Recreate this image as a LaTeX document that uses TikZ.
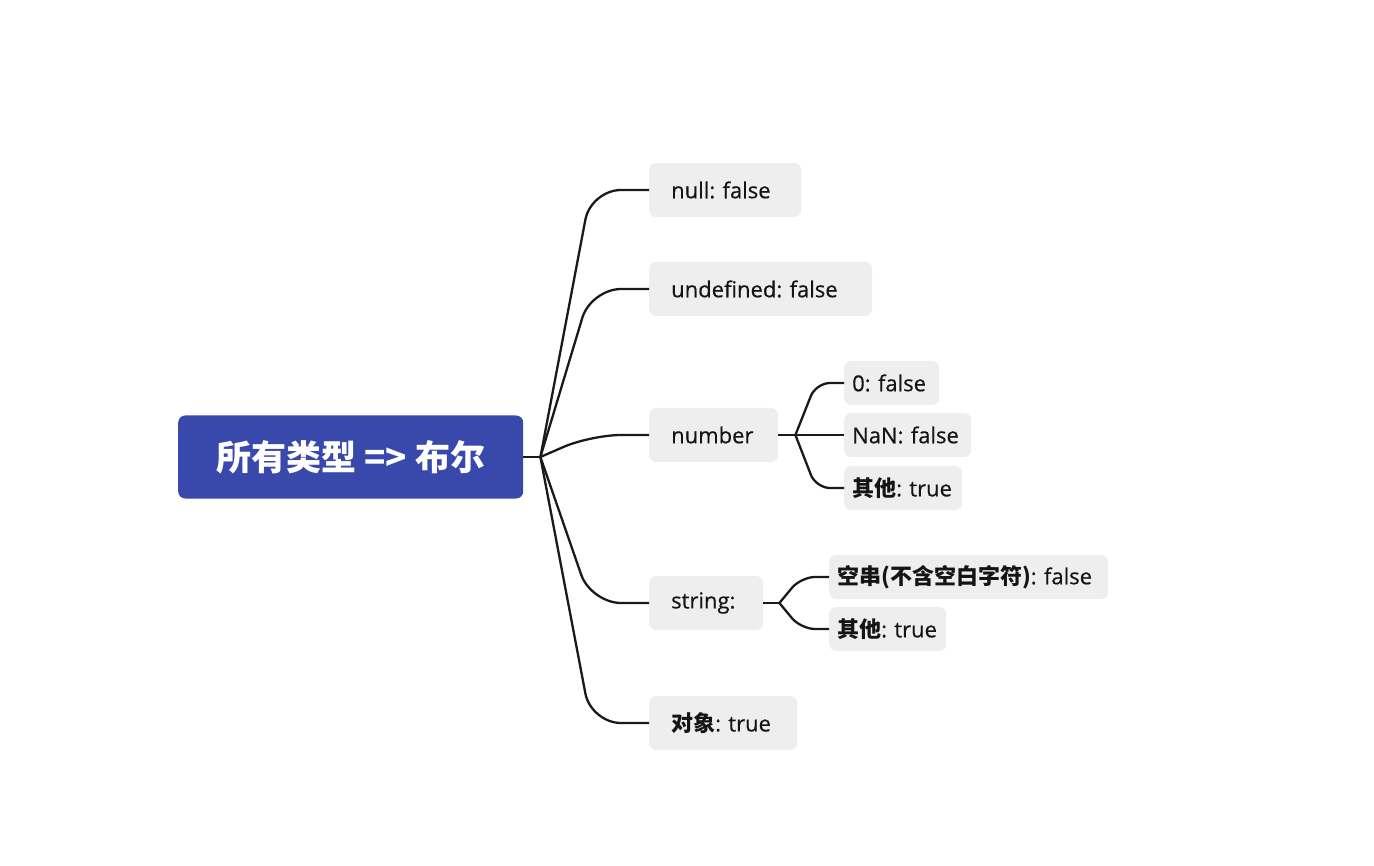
\documentclass[tikz,border=0pt]{standalone}
\usepackage{fontspec}
\setmainfont{Open Sans}[FakeBold=0.5]
\newfontfamily\cjk{Noto Sans CJK SC}
\newcommand\zh[1]{{\cjk\bfseries #1}}
\frenchspacing
\usetikzlibrary{calc}
\definecolor{rootblue}{HTML}{3949AB}
\definecolor{boxgray}{HTML}{EEEEEE}
\definecolor{linec}{HTML}{1A1A1A}
\tikzset{
  rootbox/.style={fill=rootblue, rounded corners=7pt, anchor=west, minimum width=345pt, minimum height=83pt, text=white, font=\fontsize{35}{40}\selectfont\cjk\bfseries},
  topic/.style={fill=boxgray, rounded corners=7pt, anchor=west, inner xsep=22pt, inner ysep=0pt, minimum height=54pt, align=left, text=black!92, font=\fontsize{22}{25}\selectfont},
  sub/.style={fill=boxgray, rounded corners=7pt, anchor=west, inner xsep=8pt, inner ysep=0pt, minimum height=44pt, align=left, text=black!92, font=\fontsize{22}{25}\selectfont},
  conn/.style={draw=linec, line width=2.3pt, rounded corners=30pt},
  subconn/.style={draw=linec, line width=2.3pt, rounded corners=14pt},
}
\begin{document}
\begin{tikzpicture}[x=1pt,y=-1pt]
\useasboundingbox (0,0) rectangle (1374,866);
\node[rootbox] (root) at (178,457) {所有类型 => 布尔};
\node[topic, text width=108pt] (null) at (649,190) {null: false};
\node[topic, text width=179pt] (undef) at (649,289) {undefined: false};
\node[topic, text width=85pt] (num) at (649,435) {number};
\node[topic, text width=70pt] (str) at (649,603) {string:};
\node[topic, text width=104pt] (obj) at (649,723) {\zh{对象}: true};
\node[sub, text width=79pt] (zero) at (844,383) {0: false};
\node[sub, text width=111pt] (nan) at (844,435) {NaN: false};
\node[sub, text width=102pt] (numo) at (844,488) {\zh{其他}: true};
\node[sub, text width=263pt] (empty) at (829,577) {\zh{空串(不含空白字符)}: false};
\node[sub, text width=101pt] (stro) at (829,629) {\zh{其他}: true};
\coordinate (j) at ($(root.east)+(17,0)$);
\draw[conn] (root.east) -- (j);
\foreach \c in {null,undef,num,str,obj}
  \draw[conn] (j) -- ($(\c.west)+(-58,0)$) -- (\c.west);
\coordinate (j2) at ($(num.east)+(17,0)$);
\draw[subconn] (num.east) -- (j2);
\foreach \c in {zero,nan,numo}
  \draw[subconn] (j2) -- ($(\c.west)+(-28,0)$) -- (\c.west);
\coordinate (j3) at ($(str.east)+(16,0)$);
\draw[subconn] (str.east) -- (j3);
\foreach \c in {empty,stro}
  \draw[subconn] (j3) -- ($(\c.west)+(-28,0)$) -- (\c.west);
\end{tikzpicture}
\end{document}
